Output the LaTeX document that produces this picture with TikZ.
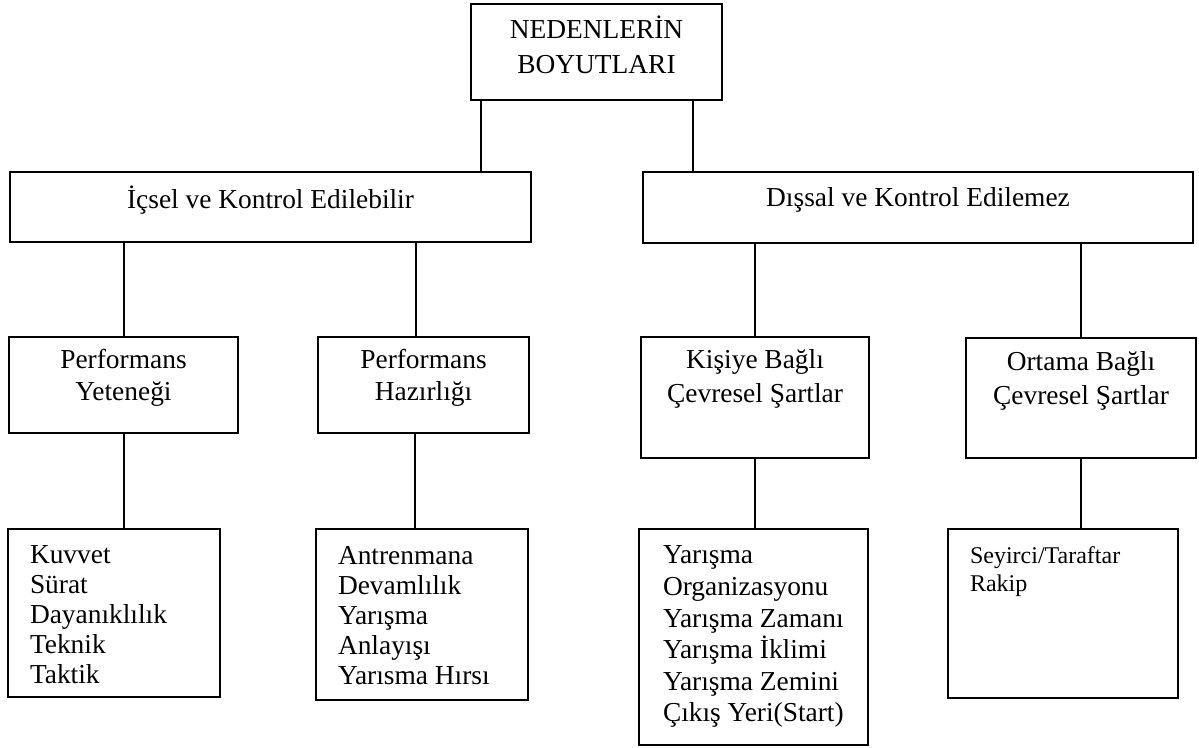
\documentclass[tikz,border=0pt]{standalone}
\usepackage{fontspec}
\setmainfont{Liberation Serif}
\usepackage{tikz}
\usetikzlibrary{positioning}

\begin{document}
\begin{tikzpicture}[x=0.5pt, y=-0.5pt, line width=1pt, every node/.style={font=\fontsize{13.7}{17}\selectfont}]
    \tikzstyle{box} = [rectangle, draw, inner sep=0pt]
    \tikzstyle{txt} = [inner sep=0pt, align=center]
    \tikzstyle{lst} = [inner sep=0pt, align=left, anchor=north west, font=\fontsize{13.7}{15}\selectfont]
    \useasboundingbox (0,0) rectangle (1199,748);

    % boxes
    \node [box, minimum width=125.5pt, minimum height=48pt] (n) at (596.5,52) {};
    \node [box, minimum width=260.5pt, minimum height=35pt] (ic) at (270.5,207) {};
    \node [box, minimum width=275pt, minimum height=35.5pt] (dis) at (918,207.5) {};
    \node [box, minimum width=114.5pt, minimum height=48pt] (py) at (123.5,385) {};
    \node [box, minimum width=105.5pt, minimum height=48pt] (ph) at (423.5,385) {};
    \node [box, minimum width=114pt, minimum height=60.5pt] (kb) at (755,397.5) {};
    \node [box, minimum width=115pt, minimum height=60pt] (ob) at (1081,398) {};
    \node [box, minimum width=106pt, minimum height=84pt] (l1) at (114,613) {};
    \node [box, minimum width=106pt, minimum height=85.5pt] (l2) at (422,614.5) {};
    \node [box, minimum width=114.5pt, minimum height=108pt] (l3) at (753.5,637) {};
    \node [box, minimum width=115pt, minimum height=84.5pt] (l4) at (1063,613.5) {};

    % texts
    \node [txt, font=\fontsize{13.7}{17.5}\selectfont] (tn) at ([yshift=-20.75pt]n.north) {NEDENLERİN\\BOYUTLARI};
    \node [txt] (tic) at ([yshift=-14.5pt]ic.north) {İçsel ve Kontrol Edilebilir};
    \node [txt] (tdis) at ([yshift=-14.5pt]dis.north) {Dışsal ve Kontrol Edilemez};
    \node [txt, font=\fontsize{13.7}{16}\selectfont] (tpy) at ([yshift=-21pt]py.north) {Performans\\Yeteneği};
    \node [txt, font=\fontsize{13.7}{16}\selectfont] (tph) at ([yshift=-21pt]ph.north) {Performans\\Hazırlığı};
    \node [txt] (tkb) at ([yshift=-21.5pt]kb.north) {Kişiye Bağlı\\Çevresel Şartlar};
    \node [txt] (tob) at ([yshift=-22pt]ob.north) {Ortama Bağlı\\Çevresel Şartlar};
    \node [lst] (tl1) at ([xshift=11pt, yshift=-8.5pt]l1.north west) {Kuvvet\\Sürat\\Dayanıklılık\\Teknik\\Taktik};
    \node [lst] (tl2) at ([xshift=11pt, yshift=-8.5pt]l2.north west) {Antrenmana\\Devamlılık\\Yarışma\\Anlayışı\\Yarısma Hırsı};
    \node [lst, font=\fontsize{13.7}{15.8}\selectfont] (tl3) at ([xshift=12pt, yshift=-8.5pt]l3.north west) {Yarışma\\Organizasyonu\\Yarışma Zamanı\\Yarışma İklimi\\Yarışma Zemini\\Çıkış Yeri(Start)};
    \node [lst, font=\fontsize{12}{14}\selectfont] (tl4) at ([xshift=11pt, yshift=-9pt]l4.north west) {Seyirci/Taraftar\\Rakip};

    % connectors
    \coordinate (na) at ([xshift=5.5pt]n.south west);
    \coordinate (nb) at ([xshift=-15pt]n.south east);
    \coordinate (pha) at ([xshift=-3.75pt]ph.north);
    \coordinate (phb) at ([xshift=-4.25pt]ph.south);
    \draw (na) -- (na |- ic.north);
    \draw (nb) -- (nb |- dis.north);
    \draw (py.north) -- (py.north |- ic.south);
    \draw (pha) -- (pha |- ic.south);
    \draw (kb.north) -- (kb.north |- dis.south);
    \draw (ob.north) -- (ob.north |- dis.south);
    \draw (py.south) -- (py.south |- l1.north);
    \draw (phb) -- (phb |- l2.north);
    \draw (kb.south) -- (kb.south |- l3.north);
    \draw (ob.south) -- (ob.south |- l4.north);
\end{tikzpicture}
\end{document}
